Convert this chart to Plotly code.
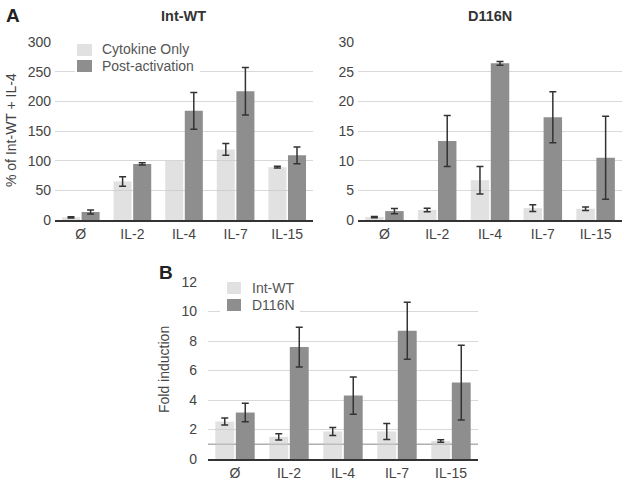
import plotly.graph_objects as go

categories = ["Ø", "IL-2", "IL-4", "IL-7", "IL-15"]

# Panel A - Int-WT (% of Int-WT + IL-4)
wt_cyto = [4.5, 65, 100, 119, 89]
wt_cyto_err = [1, 8, "NaN", 10, 1.5]   # IL-4 is the normalisation reference: no error bar
wt_post = [13.5, 94.5, 184, 217, 109]
wt_post_err = [3.4, 2, 31, 40, 14]

# Panel A - D116N
d_cyto = [0.5, 1.7, 6.7, 2.0, 1.9]
d_cyto_err = [0.1, 0.3, 2.3, 0.55, 0.3]
d_post = [1.5, 13.3, 26.4, 17.3, 10.5]
d_post_err = [0.45, 4.3, 0.3, 4.3, 7.0]

# Panel B - Fold induction
fi_wt = [2.54, 1.5, 1.87, 1.87, 1.22]
fi_wt_err = [0.24, 0.22, 0.27, 0.54, 0.08]
fi_d = [3.15, 7.59, 4.3, 8.69, 5.18]
fi_d_err = [0.63, 1.35, 1.26, 1.93, 2.53]

legendA_names = ["Cytokine Only", "Post-activation"]
legendB_names = ["Int-WT", "D116N"]

LIGHT = "rgba(200,200,200,0.55)"
DARK = "#8e8e8e"
ERR = "#333333"
FONT = "Liberation Sans, Arial, sans-serif"
W, H = 624, 480

fig = go.Figure()

def add_bar(x, y, err, color, name, xa, ya):
    fig.add_trace(go.Bar(
        x=x, y=y, name=name, marker=dict(color=color, line=dict(width=0)),
        error_y=dict(type="data", array=err, color=ERR, thickness=1.5, width=3.5),
        xaxis=xa, yaxis=ya, showlegend=False,
    ))

add_bar(categories, wt_cyto, wt_cyto_err, LIGHT, legendA_names[0], "x", "y")
add_bar(categories, wt_post, wt_post_err, DARK, legendA_names[1], "x", "y")
add_bar(categories, d_cyto, d_cyto_err, LIGHT, legendA_names[0], "x2", "y2")
add_bar(categories, d_post, d_post_err, DARK, legendA_names[1], "x2", "y2")
add_bar(categories, fi_wt, fi_wt_err, LIGHT, legendB_names[0], "x3", "y3")
add_bar(categories, fi_d, fi_d_err, DARK, legendB_names[1], "x3", "y3")

xcommon = dict(showline=True, linecolor="#333333", linewidth=1.5, ticks="",
               showgrid=False, tickfont=dict(size=14, color="#444444", family=FONT),
               zeroline=False)
ycommon = dict(showgrid=True, gridcolor="#d9d9d9", gridwidth=1, zeroline=False,
               showline=False, ticks="", tickfont=dict(size=14, color="#444444", family=FONT))


def px_x(v):
    return v / W


def px_y(v):
    return 1 - v / H


def rect(x0, y0, x1, y1, color):
    return dict(type="rect", xref="paper", yref="paper",
                x0=px_x(x0), x1=px_x(x1), y0=px_y(y1), y1=px_y(y0),
                fillcolor=color, line=dict(width=0), layer="above")


def label(text, x, y, size=14, color="#555555", bold=False, anchor="left", angle=0):
    return dict(text=f"<b>{text}</b>" if bold else text, x=px_x(x), y=px_y(y),
                xref="paper", yref="paper", xanchor=anchor, yanchor="middle",
                showarrow=False, textangle=angle,
                font=dict(size=size, color=color, family=FONT))


shapes = [
    dict(type="line", xref="x3 domain", yref="y3", x0=0, x1=1, y0=1, y1=1,
         line=dict(color="#b0b0b0", width=1.5), layer="below"),
    # legend A
    rect(75, 38, 200, 76, "white"),
    rect(77, 44, 92, 56, LIGHT),
    rect(77, 60, 92, 72, DARK),
    # legend B
    rect(220, 279, 300, 315, "white"),
    rect(227, 282, 241, 294, LIGHT),
    rect(227, 299, 241, 311, DARK),
]

annotations = [
    label("A", 4, 15, size=19, color="#222222", bold=True),
    label("B", 157, 272, size=19, color="#222222", bold=True),
    label("Int-WT", 183, 16, size=14.5, color="#333333", bold=True, anchor="center"),
    label("D116N", 490, 16, size=14.5, color="#333333", bold=True, anchor="center"),
    label("% of Int-WT + IL-4", 11, 130, color="#444444", anchor="center", angle=-90),
    label("Fold induction", 164, 370, color="#444444", anchor="center", angle=-90),
    label(legendA_names[0], 100, 49),
    label(legendA_names[1], 100, 66),
    label(legendB_names[0], 250, 288),
    label(legendB_names[1], 250, 305),
]

yA_dom = [1 - 220 / H, 1 - 42 / H]
fig.update_layout(
    width=W, height=H,
    margin=dict(l=0, r=0, t=0, b=0, autoexpand=False),
    paper_bgcolor="white", plot_bgcolor="white",
    barmode="group", bargap=0.24, bargroupgap=0.08,
    font=dict(family=FONT, color="#444444"),
    showlegend=False,
    xaxis=dict(domain=[55 / W, 313 / W], anchor="y", **xcommon),
    yaxis=dict(domain=yA_dom, anchor="x", range=[0, 300], dtick=50,
               ticklabelstandoff=3, **ycommon),
    xaxis2=dict(domain=[358 / W, 622 / W], anchor="y2", **xcommon),
    yaxis2=dict(domain=yA_dom, anchor="x2", range=[0, 30], dtick=5,
                ticklabelstandoff=3, **ycommon),
    xaxis3=dict(domain=[208 / W, 478 / W], anchor="y3", **xcommon),
    yaxis3=dict(domain=[1 - 459 / H, 1 - 282 / H], anchor="x3", range=[0, 12], dtick=2,
                ticklabelstandoff=10, **ycommon),
    shapes=shapes,
    annotations=annotations,
)

fig.write_html("out.html")
